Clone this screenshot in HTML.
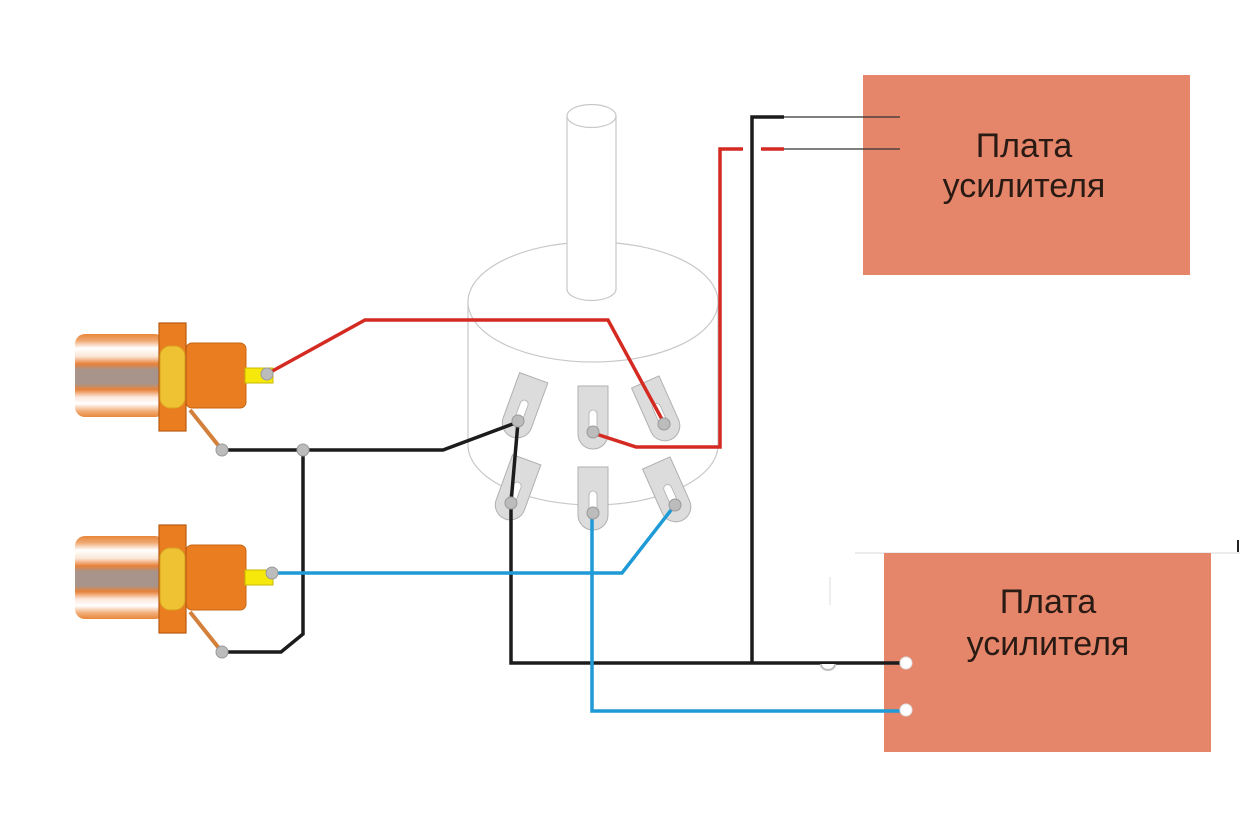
<!DOCTYPE html>
<html>
<head>
<meta charset="utf-8">
<style>
html,body{margin:0;padding:0;background:#ffffff;}
svg{display:block;}
text{font-family:"Liberation Sans","Noto Sans CJK SC",sans-serif;fill:#2a1a14;}
</style>
</head>
<body>
<svg width="1240" height="827" viewBox="0 0 1240 827" xmlns="http://www.w3.org/2000/svg">
<defs>
<linearGradient id="barrel" x1="0" y1="0" x2="0" y2="1">
<stop offset="0" stop-color="#e8863a"/>
<stop offset="0.08" stop-color="#f0a872"/>
<stop offset="0.17" stop-color="#ffffff"/>
<stop offset="0.27" stop-color="#fbe6d6"/>
<stop offset="0.36" stop-color="#e8823a"/>
<stop offset="0.43" stop-color="#a8948a"/>
<stop offset="0.60" stop-color="#a8948a"/>
<stop offset="0.67" stop-color="#e8823a"/>
<stop offset="0.76" stop-color="#fde8da"/>
<stop offset="0.84" stop-color="#ffffff"/>
<stop offset="0.93" stop-color="#f2ac76"/>
<stop offset="1" stop-color="#e8863a"/>
</linearGradient>
<g id="jack">
<rect x="75" y="334" width="90" height="83" rx="10" fill="url(#barrel)"/>
<rect x="186" y="343" width="60" height="65" rx="6" fill="#ea7d1f" stroke="#c86510" stroke-width="1"/>
<rect x="159" y="323" width="27" height="108" fill="#ea7d1f" stroke="#b95a10" stroke-width="1.2"/>
<rect x="160" y="346" width="25" height="62" rx="10" fill="#eec232" stroke="#d9a020" stroke-width="1"/>
<rect x="245" y="368" width="28" height="15" fill="#f6e80a" stroke="#c8b800" stroke-width="1"/>
<line x1="190" y1="410" x2="222" y2="450" stroke="#d2803a" stroke-width="4"/>
</g>
<g id="lug">
<path d="M-15,-46 L15,-46 L15,2 A15,15 0 0 1 -15,2 Z" fill="#dcdcdc" stroke="#b0b0b0" stroke-width="1"/>
<rect x="-4" y="-22" width="8" height="24" rx="4" fill="#ffffff" stroke="#b0b0b0" stroke-width="0.8"/>
</g>
</defs>

<!-- Potentiometer body -->
<g fill="none" stroke="#c8c8c8" stroke-width="1.2">
<path d="M468,302 L468,445 A125,60 0 0 0 718,445 L718,302"/>
<ellipse cx="593" cy="302" rx="125" ry="60" fill="#ffffff"/>
<path d="M567,116 L567,289 A24.5,11.5 0 0 0 616,289 L616,116" fill="#ffffff"/>
<ellipse cx="591.5" cy="116" rx="24.5" ry="11.5" fill="#ffffff"/>
</g>

<!-- Lugs -->
<use href="#lug" transform="translate(518,421) rotate(20)"/>
<use href="#lug" transform="translate(593,432)"/>
<use href="#lug" transform="translate(664,424) rotate(-24)"/>
<use href="#lug" transform="translate(511,503) rotate(20)"/>
<use href="#lug" transform="translate(593,513)"/>
<use href="#lug" transform="translate(675,505) rotate(-24)"/>

<!-- Jacks -->
<use href="#jack"/>
<use href="#jack" transform="translate(0,202)"/>

<!-- Amplifier boards -->
<rect x="863" y="75" width="327" height="200" fill="#e5866a"/>
<text x="1024" y="157" font-size="34" text-anchor="middle">Плата</text>
<text x="1024" y="197" font-size="34" text-anchor="middle">усилителя</text>

<line x1="855" y1="553" x2="1240" y2="553" stroke="#d8d8d8" stroke-width="1"/>
<line x1="1238" y1="540" x2="1238" y2="552" stroke="#222" stroke-width="2"/>
<line x1="830" y1="577" x2="830" y2="605" stroke="#dddddd" stroke-width="1"/>
<rect x="884" y="553" width="327" height="199" fill="#e5866a"/>
<text x="1048" y="613" font-size="34" text-anchor="middle">Плата</text>
<text x="1048" y="655" font-size="34" text-anchor="middle">усилителя</text>

<!-- Wires -->
<g fill="none" stroke-width="3.5" stroke-linejoin="miter">
<!-- red -->
<polyline points="267,374 365,320 608,320 664,423" stroke="#d42a22"/>
<polyline points="593,433 636,447 720,447 720,149 743,149" stroke="#d42a22"/>
<line x1="761" y1="149" x2="784" y2="149" stroke="#d42a22"/>
<!-- black -->
<polyline points="222,450 443,450 518,422" stroke="#1c1c1c"/>
<polyline points="303,450 303,634 281,652 222,652" stroke="#1c1c1c"/>
<polyline points="518,422 511,503 511,663 906,663" stroke="#1c1c1c"/>
<polyline points="752,663 752,117 784,117" stroke="#1c1c1c"/>
<!-- blue -->
<polyline points="272,573 622,573 675,505" stroke="#1e9ad6"/>
<polyline points="592,513 592,711 906,711" stroke="#1e9ad6"/>
</g>
<line x1="784" y1="117" x2="900" y2="117" stroke="#333" stroke-width="1.2"/>
<line x1="784" y1="149" x2="900" y2="149" stroke="#333" stroke-width="1.2"/>

<!-- crossing bump -->
<path d="M821,664 A7,6 0 0 0 835,664" fill="#ffffff" stroke="#bdbdbd" stroke-width="2"/>

<!-- Dots -->
<g fill="#bcbcbc" stroke="#9a9a9a" stroke-width="1">
<circle cx="267" cy="374" r="6"/>
<circle cx="272" cy="573" r="6"/>
<circle cx="222" cy="450" r="6"/>
<circle cx="303" cy="450" r="6"/>
<circle cx="222" cy="652" r="6"/>
<circle cx="518" cy="421" r="6"/>
<circle cx="593" cy="432" r="6"/>
<circle cx="664" cy="424" r="6"/>
<circle cx="511" cy="503" r="6"/>
<circle cx="593" cy="513" r="6"/>
<circle cx="675" cy="505" r="6"/>
</g>
<circle cx="906" cy="663" r="6" fill="#ffffff" stroke="#e0e0e0" stroke-width="1"/>
<circle cx="906" cy="710" r="6" fill="#ffffff" stroke="#e0e0e0" stroke-width="1"/>
</svg>
</body>
</html>
